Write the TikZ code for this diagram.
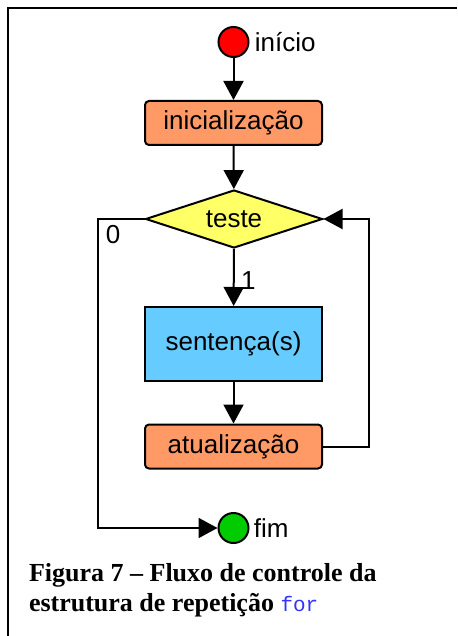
\documentclass[tikz,border=0pt]{standalone}
\usepackage{fontspec}
\setmainfont{Liberation Serif}
\setsansfont{Liberation Sans}
\setmonofont{Liberation Mono}
\usetikzlibrary{arrows.meta, shapes.geometric, positioning}

\definecolor{salmao}{HTML}{FF9966}
\definecolor{amarelo}{HTML}{FFFF66}
\definecolor{azul}{HTML}{66CCFF}
\definecolor{verde}{HTML}{00CC00}
\definecolor{azulcodigo}{HTML}{3333FF}

\begin{document}
\begin{tikzpicture}[x=1pt, y=-1pt, line width=2pt,
    every node/.style={font=\sffamily\fontsize{26}{30}\selectfont},
    fluxo/.style={-{Triangle[length=19pt, width=20pt]}},
    estado/.style={circle, draw, minimum size=30pt, inner sep=0pt},
    passo/.style={draw, rounded corners=4pt, fill=salmao, minimum width=177pt, minimum height=44pt},
    decisao/.style={diamond, draw, fill=amarelo, aspect=3, inner sep=0pt, minimum width=177pt, minimum height=58pt}]
    \useasboundingbox (0, 0) rectangle (457, 636);
    \draw[line width=2.5pt] (8, 636) |- (457, 8);

    \node[estado, fill=red] (inicio) at (233.5, 42) {};
    \node[right=1pt of inicio] (inicio-txt) {início};
    \node[passo] (inicializacao) at (233.5, 123) {inicialização};
    \node[decisao] (teste) at (234, 219) {teste};
    \node[draw, fill=azul, minimum width=177pt, minimum height=74pt] (sentenca) at (233.5, 344) {sentença(s)};
    \node[passo] (atualizacao) at (233.5, 446.5) {atualização};
    \node[estado, fill=verde] (fim) at (233.5, 528) {};
    \node[right=0pt of fim] (fim-txt) {fim};

    \draw[fluxo] (inicio) -- (inicializacao);
    \draw[fluxo] (inicializacao) -- (teste);
    \draw[fluxo] (teste) -- node[right=3pt, pos=0.55] (sim) {1} (sentenca);
    \draw[fluxo] (atualizacao.east) -- ++(46, 0) |- (teste.east);
    \draw[fluxo] (sentenca) -- (atualizacao);
    \draw[fluxo] (teste.west) -- ++(-47, 0) node[below right, xshift=4pt, yshift=-2pt] (nao) {0} |- (fim);

    \node[anchor=north west, align=left, inner sep=0pt, font=\rmfamily\bfseries\fontsize{26}{30}\selectfont] (legenda) at (28, 562)
      {Figura 7 – Fluxo de controle da\\estrutura de repetição {\ttfamily\mdseries\fontsize{21}{30}\selectfont\color{azulcodigo}for}};
\end{tikzpicture}
\end{document}
